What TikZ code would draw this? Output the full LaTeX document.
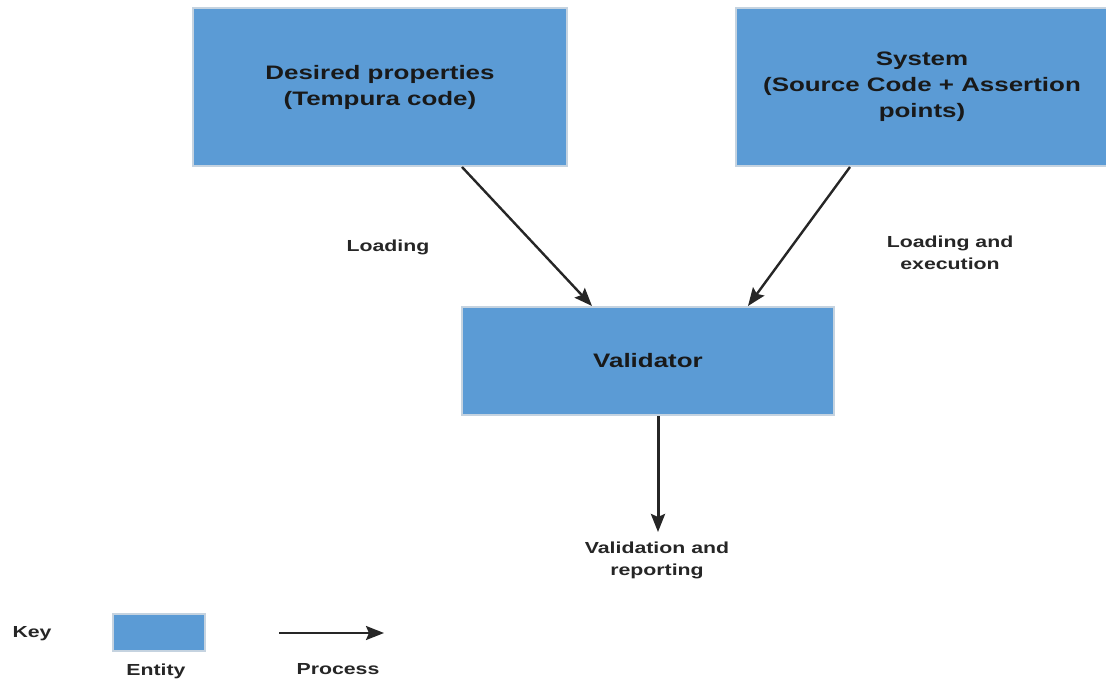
\documentclass[tikz,border=0pt]{standalone}
\usepackage{fontspec}
\setmainfont{Liberation Sans}
\newfontfamily\widesans[FakeStretch=1.33]{Liberation Sans}
\usetikzlibrary{arrows.meta}
\definecolor{entityblue}{HTML}{5B9BD5}
\definecolor{entityedge}{HTML}{C5D3E0}
\begin{document}
\begin{tikzpicture}[x=1pt,y=-1pt,
  entity/.style={draw=entityedge, line width=2pt, fill=entityblue, inner sep=0pt,
    font=\widesans\fontsize{19.5}{26}\selectfont\bfseries, align=center, text=black!90},
  process/.style={draw=black!85, line width=2.4pt, -{Stealth[length=18pt,width=14pt,inset=3pt]}},
  lbl/.style={font=\widesans\fontsize{16}{22}\selectfont\bfseries, align=center, text=black!85}]
\useasboundingbox (0,0) rectangle (1106,682);
% main entities
\node[entity, minimum width=374pt, minimum height=158pt] (desired) at (380,87)
  {Desired properties\\(Tempura code)};
\node[entity, minimum width=372pt, minimum height=158pt] (system) at (922,87)
  {System\\(Source Code + Assertion\\points)};
\node[entity, minimum width=372pt, minimum height=108pt] (validator) at (648,361)
  {Validator};
% outcome of validation
\coordinate (report) at (658,532);
\node[lbl] (reportlbl) at (657,560) {Validation and\\reporting};
% processes
\draw[process] (desired.south -| 462,0) -- (592,306);
\draw[process] (system.south -| 850,0) -- (748,306);
\draw[process, line width=3pt] (validator.south -| report) -- (report);
\node[lbl] (load1) at (388,247) {Loading};
\node[lbl] (load2) at (950,253) {Loading and\\execution};
% legend
\node[lbl, anchor=west] (key) at (9,634) {Key};
\node[entity, minimum width=92pt, minimum height=37pt] (keybox) at (159,632) {};
\node[lbl] (keyentity) at (156,671) {Entity};
\coordinate (ka) at (279,633);
\coordinate (kb) at (384,633);
\draw[process] (ka) -- (kb);
\node[lbl] (keyproc) at (338,669) {Process};
\end{tikzpicture}
\end{document}
